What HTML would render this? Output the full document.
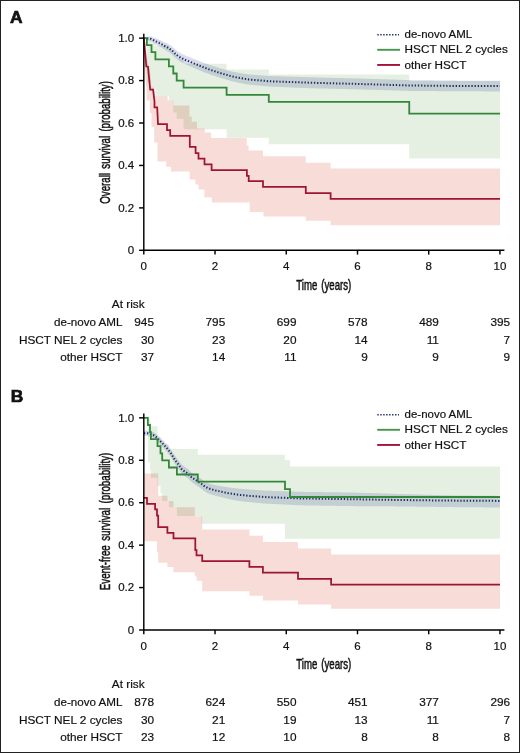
<!DOCTYPE html>
<html><head><meta charset="utf-8"><style>
html,body{margin:0;padding:0;background:#fff;}
#wrap{position:relative;width:518px;height:751px;border:1px solid #222;overflow:hidden;}
svg{position:absolute;left:-1px;top:-1px;}
text{font-family:"Liberation Sans",sans-serif;fill:#111;stroke:#111;stroke-width:0.2px;}
</style></head><body><div id="wrap">
<svg width="520" height="753" viewBox="0 0 520 753">
<g transform="translate(0 0.4)">
<path d="M143.80 37.70 L146.90 37.70 L146.90 38.80 L151.50 38.80 L151.50 42.00 L155.40 42.00 L155.40 45.10 L168.90 45.10 L168.90 49.40 L173.30 49.40 L173.30 53.60 L176.70 53.60 L176.70 57.90 L183.60 57.90 L183.60 63.30 L226.60 63.30 L226.60 69.00 L268.80 69.00 L268.80 74.20 L409.25 74.20 L409.25 80.50 L500.00 80.50 L500.00 158.10 L409.25 158.10 L409.25 143.80 L268.80 143.80 L268.80 137.30 L226.60 137.30 L226.60 128.80 L183.60 128.80 L183.60 118.60 L176.70 118.60 L176.70 112.00 L173.30 112.00 L173.30 100.00 L168.90 100.00 L168.90 95.80 L155.40 95.80 L155.40 89.00 L151.50 89.00 L151.50 82.00 L146.90 82.00 L146.90 37.70 L143.80 37.70Z" fill="#e5f0e2"/>
<path d="M143.80 37.70 L145.50 42.00 L147.80 62.00 L149.50 66.50 L151.70 86.00 L154.50 89.30 L155.40 95.80 L167.50 95.80 L167.50 100.00 L173.60 100.00 L173.60 105.20 L189.40 105.20 L189.40 116.00 L191.70 116.00 L191.70 121.30 L197.00 121.30 L197.00 128.00 L204.70 128.00 L204.70 132.00 L211.00 132.00 L211.00 137.50 L246.70 137.50 L246.70 145.00 L248.60 145.00 L248.60 150.00 L263.00 150.00 L263.00 155.80 L305.80 155.80 L305.80 162.30 L330.60 162.30 L330.60 168.20 L500.00 168.20 L500.00 224.80 L330.60 224.80 L330.60 220.30 L305.80 220.30 L305.80 216.00 L263.50 216.00 L263.50 211.50 L249.70 211.50 L249.70 202.00 L211.80 202.00 L211.80 196.80 L204.40 196.80 L204.40 189.00 L198.50 189.00 L198.50 184.00 L195.50 184.00 L195.50 179.00 L189.60 179.00 L189.60 171.00 L170.90 171.00 L170.90 166.30 L166.20 166.30 L166.20 161.00 L157.50 161.00 L157.50 142.10 L154.20 142.10 L154.20 126.50 L151.50 126.50 L151.50 112.70 L149.80 112.70 L149.80 100.00 L149.80 100.00 L146.60 100.00 L146.60 90.00 L145.20 75.00 L144.30 60.00 L143.80 37.70Z" fill="#f8dcd8" style="mix-blend-mode:multiply"/>
<path d="M143.85 36.95 L144.85 36.80 L145.85 36.65 L146.85 36.50 L147.85 36.35 L148.85 36.20 L149.85 36.06 L150.85 36.06 L151.85 36.42 L152.85 36.78 L153.85 37.14 L154.85 37.50 L155.85 37.92 L156.85 38.35 L157.85 38.76 L158.85 39.18 L159.85 39.61 L160.85 40.06 L161.85 40.51 L162.85 41.00 L163.85 41.51 L164.85 42.02 L165.85 42.47 L166.85 42.92 L167.85 43.41 L168.85 44.02 L169.85 44.64 L170.85 45.33 L171.85 46.09 L172.85 46.86 L173.85 47.81 L174.85 48.76 L175.85 49.60 L176.85 50.36 L177.85 51.10 L178.85 51.78 L179.85 52.45 L180.85 53.06 L181.85 53.52 L182.85 53.99 L183.85 54.46 L184.85 54.93 L185.85 55.40 L186.85 55.79 L187.85 56.12 L188.85 56.45 L189.85 56.84 L190.85 57.28 L191.85 57.71 L192.85 58.11 L193.85 58.49 L194.85 58.88 L195.85 59.26 L196.85 59.65 L197.85 60.03 L198.85 60.43 L199.85 60.84 L200.85 61.25 L201.85 61.67 L202.85 62.08 L203.85 62.49 L204.85 62.85 L205.85 63.20 L206.85 63.55 L207.85 63.90 L208.85 64.26 L209.85 64.61 L210.85 64.94 L211.85 65.26 L212.85 65.58 L213.85 65.90 L214.85 66.22 L215.85 66.55 L216.85 66.86 L217.85 67.17 L218.85 67.47 L219.85 67.78 L220.85 68.09 L221.85 68.39 L222.85 68.66 L223.85 68.92 L224.85 69.18 L225.85 69.44 L226.85 69.73 L227.85 70.03 L228.85 70.32 L229.85 70.61 L230.85 70.89 L231.85 71.14 L232.85 71.34 L233.85 71.53 L234.85 71.72 L235.85 71.91 L236.85 72.10 L237.85 72.29 L238.85 72.46 L239.85 72.64 L240.85 72.81 L241.85 72.99 L242.85 73.16 L243.85 73.31 L244.85 73.45 L245.85 73.60 L246.85 73.74 L247.85 73.88 L248.85 74.02 L249.85 74.09 L250.85 74.17 L251.85 74.24 L252.85 74.32 L253.85 74.40 L254.85 74.47 L255.85 74.55 L256.85 74.63 L257.85 74.71 L258.85 74.78 L259.85 74.86 L260.85 74.94 L261.85 75.01 L262.85 75.09 L263.85 75.17 L264.85 75.24 L265.85 75.32 L266.85 75.40 L267.85 75.47 L268.85 75.55 L269.85 75.63 L270.85 75.66 L271.85 75.69 L272.85 75.72 L273.85 75.74 L274.85 75.77 L275.85 75.80 L276.85 75.82 L277.85 75.85 L278.85 75.88 L279.85 75.91 L280.85 75.93 L281.85 75.96 L282.85 75.99 L283.85 76.01 L284.85 76.04 L285.85 76.07 L286.85 76.09 L287.85 76.12 L288.85 76.15 L289.85 76.18 L290.85 76.20 L291.85 76.23 L292.85 76.26 L293.85 76.28 L294.85 76.31 L295.85 76.34 L296.85 76.36 L297.85 76.39 L298.85 76.42 L299.85 76.45 L300.85 76.48 L301.85 76.52 L302.85 76.55 L303.85 76.59 L304.85 76.62 L305.85 76.66 L306.85 76.70 L307.85 76.73 L308.85 76.77 L309.85 76.80 L310.85 76.83 L311.85 76.86 L312.85 76.89 L313.85 76.91 L314.85 76.94 L315.85 76.97 L316.85 76.99 L317.85 77.02 L318.85 77.05 L319.85 77.08 L320.85 77.10 L321.85 77.13 L322.85 77.16 L323.85 77.18 L324.85 77.21 L325.85 77.24 L326.85 77.26 L327.85 77.29 L328.85 77.32 L329.85 77.35 L330.85 77.37 L331.85 77.40 L332.85 77.43 L333.85 77.45 L334.85 77.48 L335.85 77.51 L336.85 77.53 L337.85 77.56 L338.85 77.59 L339.85 77.62 L340.85 77.64 L341.85 77.67 L342.85 77.70 L343.85 77.72 L344.85 77.75 L345.85 77.78 L346.85 77.80 L347.85 77.83 L348.85 77.86 L349.85 77.89 L350.85 77.91 L351.85 77.94 L352.85 77.97 L353.85 77.99 L354.85 78.02 L355.85 78.05 L356.85 78.07 L357.85 78.10 L358.85 78.13 L359.85 78.16 L360.85 78.19 L361.85 78.22 L362.85 78.25 L363.85 78.28 L364.85 78.31 L365.85 78.34 L366.85 78.37 L367.85 78.40 L368.85 78.43 L369.85 78.47 L370.85 78.50 L371.85 78.53 L372.85 78.56 L373.85 78.59 L374.85 78.62 L375.85 78.65 L376.85 78.68 L377.85 78.71 L378.85 78.74 L379.85 78.78 L380.85 78.81 L381.85 78.84 L382.85 78.87 L383.85 78.90 L384.85 78.93 L385.85 78.96 L386.85 78.99 L387.85 79.02 L388.85 79.05 L389.85 79.09 L390.85 79.12 L391.85 79.15 L392.85 79.18 L393.85 79.21 L394.85 79.24 L395.85 79.27 L396.85 79.30 L397.85 79.33 L398.85 79.36 L399.85 79.40 L400.85 79.43 L401.85 79.46 L402.85 79.49 L403.85 79.52 L404.85 79.55 L405.85 79.58 L406.85 79.61 L407.85 79.64 L408.85 79.67 L409.85 79.71 L410.85 79.72 L411.85 79.73 L412.85 79.74 L413.85 79.75 L414.85 79.76 L415.85 79.77 L416.85 79.79 L417.85 79.80 L418.85 79.81 L419.85 79.82 L420.85 79.83 L421.85 79.84 L422.85 79.85 L423.85 79.86 L424.85 79.87 L425.85 79.88 L426.85 79.90 L427.85 79.91 L428.85 79.92 L429.85 79.93 L430.85 79.94 L431.85 79.95 L432.85 79.96 L433.85 79.97 L434.85 79.98 L435.85 79.99 L436.85 80.01 L437.85 80.02 L438.85 80.03 L439.85 80.04 L440.85 80.05 L441.85 80.06 L442.85 80.07 L443.85 80.08 L444.85 80.09 L445.85 80.10 L446.85 80.12 L447.85 80.13 L448.85 80.14 L449.85 80.15 L450.85 80.16 L451.85 80.17 L452.85 80.18 L453.85 80.19 L454.85 80.20 L455.85 80.21 L456.85 80.23 L457.85 80.24 L458.85 80.25 L459.85 80.26 L460.85 80.26 L461.85 80.27 L462.85 80.27 L463.85 80.27 L464.85 80.28 L465.85 80.28 L466.85 80.28 L467.85 80.29 L468.85 80.29 L469.85 80.29 L470.85 80.30 L471.85 80.30 L472.85 80.30 L473.85 80.31 L474.85 80.31 L475.85 80.32 L476.85 80.32 L477.85 80.32 L478.85 80.33 L479.85 80.33 L480.85 80.33 L481.85 80.34 L482.85 80.34 L483.85 80.34 L484.85 80.35 L485.85 80.35 L486.85 80.35 L487.85 80.36 L488.85 80.36 L489.85 80.36 L490.85 80.37 L491.85 80.37 L492.85 80.37 L493.85 80.38 L494.85 80.38 L495.85 80.39 L496.85 80.39 L497.85 80.39 L498.85 80.40 L499.85 80.40 L500.00 80.40 L500.00 91.00 L499.85 91.00 L498.85 91.00 L497.85 91.00 L496.85 91.00 L495.85 90.99 L494.85 90.99 L493.85 90.99 L492.85 90.99 L491.85 90.99 L490.85 90.99 L489.85 90.98 L488.85 90.98 L487.85 90.98 L486.85 90.98 L485.85 90.98 L484.85 90.98 L483.85 90.98 L482.85 90.97 L481.85 90.97 L480.85 90.97 L479.85 90.97 L478.85 90.97 L477.85 90.97 L476.85 90.97 L475.85 90.96 L474.85 90.96 L473.85 90.96 L472.85 90.96 L471.85 90.96 L470.85 90.96 L469.85 90.95 L468.85 90.95 L467.85 90.95 L466.85 90.95 L465.85 90.95 L464.85 90.95 L463.85 90.95 L462.85 90.94 L461.85 90.94 L460.85 90.94 L459.85 90.94 L458.85 90.93 L457.85 90.92 L456.85 90.91 L455.85 90.90 L454.85 90.89 L453.85 90.88 L452.85 90.88 L451.85 90.87 L450.85 90.86 L449.85 90.85 L448.85 90.84 L447.85 90.83 L446.85 90.82 L445.85 90.81 L444.85 90.80 L443.85 90.79 L442.85 90.79 L441.85 90.78 L440.85 90.77 L439.85 90.76 L438.85 90.75 L437.85 90.74 L436.85 90.73 L435.85 90.72 L434.85 90.71 L433.85 90.70 L432.85 90.70 L431.85 90.69 L430.85 90.68 L429.85 90.67 L428.85 90.66 L427.85 90.65 L426.85 90.64 L425.85 90.63 L424.85 90.62 L423.85 90.61 L422.85 90.61 L421.85 90.60 L420.85 90.59 L419.85 90.58 L418.85 90.57 L417.85 90.56 L416.85 90.55 L415.85 90.54 L414.85 90.53 L413.85 90.52 L412.85 90.52 L411.85 90.51 L410.85 90.50 L409.85 90.49 L408.85 90.46 L407.85 90.43 L406.85 90.40 L405.85 90.37 L404.85 90.34 L403.85 90.31 L402.85 90.28 L401.85 90.25 L400.85 90.22 L399.85 90.20 L398.85 90.17 L397.85 90.14 L396.85 90.11 L395.85 90.08 L394.85 90.05 L393.85 90.02 L392.85 89.99 L391.85 89.96 L390.85 89.93 L389.85 89.91 L388.85 89.88 L387.85 89.85 L386.85 89.82 L385.85 89.79 L384.85 89.76 L383.85 89.73 L382.85 89.70 L381.85 89.67 L380.85 89.64 L379.85 89.62 L378.85 89.59 L377.85 89.56 L376.85 89.53 L375.85 89.50 L374.85 89.47 L373.85 89.44 L372.85 89.41 L371.85 89.38 L370.85 89.35 L369.85 89.33 L368.85 89.30 L367.85 89.27 L366.85 89.24 L365.85 89.21 L364.85 89.18 L363.85 89.15 L362.85 89.12 L361.85 89.09 L360.85 89.06 L359.85 89.04 L358.85 89.01 L357.85 88.99 L356.85 88.96 L355.85 88.94 L354.85 88.91 L353.85 88.89 L352.85 88.86 L351.85 88.84 L350.85 88.81 L349.85 88.79 L348.85 88.76 L347.85 88.74 L346.85 88.71 L345.85 88.69 L344.85 88.66 L343.85 88.64 L342.85 88.61 L341.85 88.59 L340.85 88.56 L339.85 88.54 L338.85 88.51 L337.85 88.49 L336.85 88.46 L335.85 88.44 L334.85 88.41 L333.85 88.39 L332.85 88.36 L331.85 88.34 L330.85 88.31 L329.85 88.29 L328.85 88.26 L327.85 88.24 L326.85 88.21 L325.85 88.19 L324.85 88.16 L323.85 88.14 L322.85 88.11 L321.85 88.09 L320.85 88.06 L319.85 88.04 L318.85 88.01 L317.85 87.99 L316.85 87.96 L315.85 87.94 L314.85 87.91 L313.85 87.89 L312.85 87.86 L311.85 87.84 L310.85 87.81 L309.85 87.78 L308.85 87.75 L307.85 87.72 L306.85 87.68 L305.85 87.65 L304.85 87.61 L303.85 87.58 L302.85 87.55 L301.85 87.51 L300.85 87.48 L299.85 87.44 L298.85 87.40 L297.85 87.36 L296.85 87.31 L295.85 87.27 L294.85 87.23 L293.85 87.19 L292.85 87.14 L291.85 87.10 L290.85 87.06 L289.85 87.01 L288.85 86.97 L287.85 86.93 L286.85 86.88 L285.85 86.84 L284.85 86.80 L283.85 86.76 L282.85 86.71 L281.85 86.67 L280.85 86.63 L279.85 86.58 L278.85 86.54 L277.85 86.50 L276.85 86.45 L275.85 86.41 L274.85 86.37 L273.85 86.33 L272.85 86.28 L271.85 86.24 L270.85 86.20 L269.85 86.15 L268.85 86.05 L267.85 85.96 L266.85 85.87 L265.85 85.77 L264.85 85.68 L263.85 85.59 L262.85 85.50 L261.85 85.40 L260.85 85.31 L259.85 85.22 L258.85 85.12 L257.85 85.03 L256.85 84.94 L255.85 84.85 L254.85 84.75 L253.85 84.66 L252.85 84.57 L251.85 84.47 L250.85 84.38 L249.85 84.29 L248.85 84.19 L247.85 84.02 L246.85 83.84 L245.85 83.67 L244.85 83.50 L243.85 83.33 L242.85 83.15 L241.85 82.94 L240.85 82.74 L239.85 82.53 L238.85 82.33 L237.85 82.12 L236.85 81.91 L235.85 81.69 L234.85 81.47 L233.85 81.24 L232.85 81.02 L231.85 80.80 L230.85 80.52 L229.85 80.21 L228.85 79.90 L227.85 79.60 L226.85 79.29 L225.85 78.99 L224.85 78.71 L223.85 78.44 L222.85 78.16 L221.85 77.89 L220.85 77.57 L219.85 77.25 L218.85 76.93 L217.85 76.60 L216.85 76.28 L215.85 75.96 L214.85 75.62 L213.85 75.29 L212.85 74.95 L211.85 74.62 L210.85 74.29 L209.85 73.94 L208.85 73.57 L207.85 73.21 L206.85 72.84 L205.85 72.48 L204.85 72.11 L203.85 71.74 L202.85 71.32 L201.85 70.89 L200.85 70.46 L199.85 70.03 L198.85 69.60 L197.85 69.17 L196.85 68.75 L195.85 68.34 L194.85 67.92 L193.85 67.51 L192.85 67.09 L191.85 66.67 L190.85 66.20 L189.85 65.74 L188.85 65.31 L187.85 64.95 L186.85 64.59 L185.85 64.17 L184.85 63.67 L183.85 63.17 L182.85 62.68 L181.85 62.18 L180.85 61.68 L179.85 61.04 L178.85 60.31 L177.85 59.58 L176.85 58.77 L175.85 57.95 L174.85 57.05 L173.85 56.04 L172.85 55.03 L171.85 54.20 L170.85 53.38 L169.85 52.62 L168.85 51.87 L167.85 51.13 L166.85 50.50 L165.85 49.92 L164.85 49.33 L163.85 48.69 L162.85 48.04 L161.85 47.42 L160.85 46.84 L159.85 46.26 L158.85 45.69 L157.85 45.14 L156.85 44.59 L155.85 44.03 L154.85 43.45 L153.85 42.81 L152.85 42.17 L151.85 41.53 L150.85 40.89 L149.85 40.58 L148.85 40.24 L147.85 39.91 L146.85 39.57 L145.85 39.23 L144.85 38.89 L143.85 38.55Z" fill="#dadcee" style="mix-blend-mode:multiply"/>
<path d="M143.85 37.75 L150.70 38.40 L153.60 39.85 L156.50 41.30 L159.40 42.70 L162.30 44.20 L164.70 45.60 L167.60 47.10 L170.40 49.00 L172.80 50.90 L175.25 53.30 L177.65 55.20 L180.50 57.20 L183.40 58.60 L186.30 60.00 L189.20 61.00 L192.10 62.30 L198.10 64.70 L203.80 67.10 L210.20 69.40 L216.00 71.30 L221.70 73.10 L225.80 74.20 L231.50 75.90 L237.30 77.10 L243.10 78.20 L248.80 79.10 L270.00 80.90 L310.00 82.30 L360.00 83.60 L410.00 85.10 L460.00 85.60 L500.00 85.70" fill="none" stroke="#1f3060" stroke-width="2.0" stroke-dasharray="1.35 1.8"/>
<path d="M143.80 37.70H146.90V44.80H151.50V51.80H155.40V58.90H168.90V66.00H173.30V73.10H176.70V80.20H183.60V87.30H226.60V94.40H268.80V101.50H409.25V113.30H500.00" fill="none" stroke="#33873a" stroke-width="1.8"/>
<path d="M143.80 37.70L146.3 65.9L148 66.5L150.2 89.3H153.1L154.5 101.2V107H157.2L158 123.8H167V129.8H170.2V135.5H189.8V146.5H195.6V152.6H198.5V158.1H204.5V163.9H211.6V169.6H246.9V175.4H248.7V180.8H263V186.5H305.8V192.8H330.6V198.4H500" fill="none" stroke="#9e1433" stroke-width="1.75"/>
</g><g transform="translate(0 0.2)">
<path d="M143.80 417.70 L147.85 417.70 L147.85 418.80 L150.00 418.80 L150.00 422.00 L150.90 422.00 L150.90 426.00 L157.50 426.00 L157.50 437.00 L160.50 437.00 L160.50 441.00 L162.20 441.00 L162.20 444.00 L168.90 444.00 L168.90 448.60 L176.90 448.60 L176.90 448.80 L197.80 448.80 L197.80 454.50 L285.00 454.50 L285.00 460.00 L290.00 460.00 L290.00 466.40 L500.00 466.40 L500.00 538.50 L285.00 538.50 L285.00 523.50 L201.50 523.50 L201.50 515.80 L176.90 515.80 L176.90 507.10 L168.90 507.10 L168.90 500.80 L162.20 500.80 L162.20 493.00 L160.50 493.00 L160.50 485.60 L157.50 485.60 L157.50 477.50 L150.90 477.50 L150.90 470.00 L150.00 470.00 L150.00 462.00 L147.85 462.00 L147.85 417.70 L143.80 417.70Z" fill="#e5f0e2"/>
<path d="M143.80 473.40 L158.20 473.40 L158.20 495.60 L167.40 495.60 L167.40 500.80 L173.50 500.80 L173.50 507.10 L194.80 507.10 L194.80 516.00 L202.20 516.00 L202.20 529.30 L249.40 529.30 L249.40 535.60 L262.90 535.60 L262.90 541.80 L298.00 541.80 L298.00 548.30 L331.10 548.30 L331.10 554.20 L500.00 554.20 L500.00 608.60 L331.10 608.60 L331.10 604.30 L298.00 604.30 L298.00 600.30 L262.90 600.30 L262.90 595.50 L249.40 595.50 L249.40 591.00 L202.20 591.00 L202.20 580.50 L196.50 580.50 L196.50 576.00 L194.80 576.00 L194.80 572.00 L173.50 572.00 L173.50 566.70 L167.40 566.70 L167.40 562.50 L158.20 562.50 L158.20 552.00 L157.00 552.00 L157.00 541.00 L143.80 541.00Z" fill="#f8dcd8" style="mix-blend-mode:multiply"/>
<path d="M143.85 430.50 L144.85 430.46 L145.85 430.41 L146.85 430.37 L147.85 430.52 L148.85 430.79 L149.85 431.06 L150.85 431.33 L151.85 431.59 L152.85 431.86 L153.85 432.23 L154.85 432.90 L155.85 433.52 L156.85 434.29 L157.85 435.24 L158.85 436.14 L159.85 437.00 L160.85 437.91 L161.85 438.86 L162.85 439.81 L163.85 440.84 L164.85 441.89 L165.85 442.95 L166.85 444.00 L167.85 445.20 L168.85 446.45 L169.85 447.70 L170.85 448.96 L171.85 450.55 L172.85 452.23 L173.85 453.78 L174.85 455.30 L175.85 456.65 L176.85 457.99 L177.85 459.23 L178.85 460.48 L179.85 461.89 L180.85 463.37 L181.85 464.41 L182.85 465.21 L183.85 466.05 L184.85 466.83 L185.85 467.47 L186.85 468.11 L187.85 468.75 L188.85 469.67 L189.85 470.68 L190.85 471.69 L191.85 472.57 L192.85 473.21 L193.85 473.85 L194.85 474.49 L195.85 475.13 L196.85 475.77 L197.85 476.41 L198.85 477.06 L199.85 477.72 L200.85 478.37 L201.85 479.02 L202.85 479.78 L203.85 480.55 L204.85 481.30 L205.85 481.79 L206.85 482.28 L207.85 482.77 L208.85 483.16 L209.85 483.46 L210.85 483.75 L211.85 484.05 L212.85 484.30 L213.85 484.55 L214.85 484.79 L215.85 485.03 L216.85 485.26 L217.85 485.49 L218.85 485.66 L219.85 485.81 L220.85 485.95 L221.85 486.11 L222.85 486.29 L223.85 486.48 L224.85 486.67 L225.85 486.84 L226.85 487.01 L227.85 487.17 L228.85 487.31 L229.85 487.41 L230.85 487.52 L231.85 487.62 L232.85 487.75 L233.85 487.88 L234.85 488.01 L235.85 488.13 L236.85 488.24 L237.85 488.35 L238.85 488.45 L239.85 488.51 L240.85 488.59 L241.85 488.67 L242.85 488.76 L243.85 488.84 L244.85 488.92 L245.85 489.00 L246.85 489.09 L247.85 489.17 L248.85 489.25 L249.85 489.34 L250.85 489.41 L251.85 489.47 L252.85 489.54 L253.85 489.60 L254.85 489.67 L255.85 489.74 L256.85 489.80 L257.85 489.87 L258.85 489.93 L259.85 490.00 L260.85 490.08 L261.85 490.16 L262.85 490.24 L263.85 490.31 L264.85 490.39 L265.85 490.43 L266.85 490.46 L267.85 490.49 L268.85 490.53 L269.85 490.56 L270.85 490.60 L271.85 490.63 L272.85 490.67 L273.85 490.70 L274.85 490.73 L275.85 490.77 L276.85 490.80 L277.85 490.84 L278.85 490.87 L279.85 490.91 L280.85 490.94 L281.85 490.97 L282.85 491.01 L283.85 491.04 L284.85 491.08 L285.85 491.11 L286.85 491.15 L287.85 491.18 L288.85 491.22 L289.85 491.25 L290.85 491.29 L291.85 491.32 L292.85 491.36 L293.85 491.39 L294.85 491.43 L295.85 491.46 L296.85 491.50 L297.85 491.54 L298.85 491.57 L299.85 491.61 L300.85 491.62 L301.85 491.64 L302.85 491.65 L303.85 491.66 L304.85 491.68 L305.85 491.69 L306.85 491.71 L307.85 491.72 L308.85 491.73 L309.85 491.75 L310.85 491.76 L311.85 491.77 L312.85 491.79 L313.85 491.80 L314.85 491.82 L315.85 491.83 L316.85 491.84 L317.85 491.86 L318.85 491.87 L319.85 491.88 L320.85 491.90 L321.85 491.91 L322.85 491.93 L323.85 491.94 L324.85 491.95 L325.85 491.97 L326.85 491.98 L327.85 491.99 L328.85 492.01 L329.85 492.02 L330.85 492.04 L331.85 492.05 L332.85 492.06 L333.85 492.08 L334.85 492.09 L335.85 492.11 L336.85 492.12 L337.85 492.13 L338.85 492.15 L339.85 492.16 L340.85 492.17 L341.85 492.19 L342.85 492.20 L343.85 492.22 L344.85 492.23 L345.85 492.24 L346.85 492.26 L347.85 492.27 L348.85 492.28 L349.85 492.30 L350.85 492.33 L351.85 492.36 L352.85 492.39 L353.85 492.42 L354.85 492.45 L355.85 492.48 L356.85 492.51 L357.85 492.54 L358.85 492.57 L359.85 492.60 L360.85 492.63 L361.85 492.66 L362.85 492.69 L363.85 492.72 L364.85 492.75 L365.85 492.78 L366.85 492.81 L367.85 492.84 L368.85 492.87 L369.85 492.90 L370.85 492.93 L371.85 492.96 L372.85 492.99 L373.85 493.02 L374.85 493.05 L375.85 493.08 L376.85 493.11 L377.85 493.14 L378.85 493.17 L379.85 493.20 L380.85 493.23 L381.85 493.26 L382.85 493.29 L383.85 493.32 L384.85 493.35 L385.85 493.38 L386.85 493.41 L387.85 493.44 L388.85 493.47 L389.85 493.50 L390.85 493.53 L391.85 493.56 L392.85 493.59 L393.85 493.62 L394.85 493.65 L395.85 493.68 L396.85 493.71 L397.85 493.74 L398.85 493.77 L399.85 493.80 L400.85 493.82 L401.85 493.85 L402.85 493.88 L403.85 493.91 L404.85 493.94 L405.85 493.96 L406.85 493.99 L407.85 494.02 L408.85 494.05 L409.85 494.08 L410.85 494.10 L411.85 494.13 L412.85 494.16 L413.85 494.19 L414.85 494.22 L415.85 494.24 L416.85 494.27 L417.85 494.30 L418.85 494.33 L419.85 494.36 L420.85 494.38 L421.85 494.41 L422.85 494.44 L423.85 494.47 L424.85 494.50 L425.85 494.52 L426.85 494.55 L427.85 494.58 L428.85 494.61 L429.85 494.64 L430.85 494.66 L431.85 494.69 L432.85 494.72 L433.85 494.75 L434.85 494.78 L435.85 494.80 L436.85 494.83 L437.85 494.86 L438.85 494.89 L439.85 494.92 L440.85 494.94 L441.85 494.97 L442.85 495.00 L443.85 495.03 L444.85 495.06 L445.85 495.08 L446.85 495.11 L447.85 495.14 L448.85 495.17 L449.85 495.20 L450.85 495.21 L451.85 495.22 L452.85 495.23 L453.85 495.24 L454.85 495.25 L455.85 495.26 L456.85 495.27 L457.85 495.28 L458.85 495.29 L459.85 495.30 L460.85 495.31 L461.85 495.32 L462.85 495.33 L463.85 495.34 L464.85 495.35 L465.85 495.36 L466.85 495.37 L467.85 495.38 L468.85 495.39 L469.85 495.40 L470.85 495.41 L471.85 495.42 L472.85 495.43 L473.85 495.44 L474.85 495.45 L475.85 495.46 L476.85 495.47 L477.85 495.48 L478.85 495.49 L479.85 495.50 L480.85 495.51 L481.85 495.52 L482.85 495.53 L483.85 495.54 L484.85 495.55 L485.85 495.56 L486.85 495.57 L487.85 495.58 L488.85 495.59 L489.85 495.60 L490.85 495.61 L491.85 495.62 L492.85 495.63 L493.85 495.64 L494.85 495.65 L495.85 495.66 L496.85 495.67 L497.85 495.68 L498.85 495.69 L499.85 495.70 L500.00 495.70 L500.00 507.30 L499.85 507.30 L498.85 507.29 L497.85 507.28 L496.85 507.27 L495.85 507.27 L494.85 507.26 L493.85 507.25 L492.85 507.24 L491.85 507.23 L490.85 507.23 L489.85 507.22 L488.85 507.21 L487.85 507.20 L486.85 507.19 L485.85 507.19 L484.85 507.18 L483.85 507.17 L482.85 507.16 L481.85 507.15 L480.85 507.15 L479.85 507.14 L478.85 507.13 L477.85 507.12 L476.85 507.11 L475.85 507.11 L474.85 507.10 L473.85 507.09 L472.85 507.08 L471.85 507.07 L470.85 507.07 L469.85 507.06 L468.85 507.05 L467.85 507.04 L466.85 507.03 L465.85 507.03 L464.85 507.02 L463.85 507.01 L462.85 507.00 L461.85 506.99 L460.85 506.99 L459.85 506.98 L458.85 506.97 L457.85 506.96 L456.85 506.95 L455.85 506.95 L454.85 506.94 L453.85 506.93 L452.85 506.92 L451.85 506.91 L450.85 506.91 L449.85 506.90 L448.85 506.88 L447.85 506.87 L446.85 506.86 L445.85 506.84 L444.85 506.83 L443.85 506.81 L442.85 506.80 L441.85 506.79 L440.85 506.77 L439.85 506.76 L438.85 506.74 L437.85 506.73 L436.85 506.72 L435.85 506.70 L434.85 506.69 L433.85 506.67 L432.85 506.66 L431.85 506.65 L430.85 506.63 L429.85 506.62 L428.85 506.60 L427.85 506.59 L426.85 506.58 L425.85 506.56 L424.85 506.55 L423.85 506.53 L422.85 506.52 L421.85 506.51 L420.85 506.49 L419.85 506.48 L418.85 506.46 L417.85 506.45 L416.85 506.44 L415.85 506.42 L414.85 506.41 L413.85 506.39 L412.85 506.38 L411.85 506.37 L410.85 506.35 L409.85 506.34 L408.85 506.32 L407.85 506.31 L406.85 506.30 L405.85 506.28 L404.85 506.27 L403.85 506.25 L402.85 506.24 L401.85 506.23 L400.85 506.21 L399.85 506.20 L398.85 506.19 L397.85 506.19 L396.85 506.18 L395.85 506.18 L394.85 506.17 L393.85 506.16 L392.85 506.16 L391.85 506.15 L390.85 506.15 L389.85 506.14 L388.85 506.13 L387.85 506.13 L386.85 506.12 L385.85 506.12 L384.85 506.11 L383.85 506.10 L382.85 506.10 L381.85 506.09 L380.85 506.09 L379.85 506.08 L378.85 506.07 L377.85 506.07 L376.85 506.06 L375.85 506.06 L374.85 506.05 L373.85 506.04 L372.85 506.04 L371.85 506.03 L370.85 506.03 L369.85 506.02 L368.85 506.01 L367.85 506.01 L366.85 506.00 L365.85 506.00 L364.85 505.99 L363.85 505.98 L362.85 505.98 L361.85 505.97 L360.85 505.97 L359.85 505.96 L358.85 505.95 L357.85 505.95 L356.85 505.94 L355.85 505.94 L354.85 505.93 L353.85 505.92 L352.85 505.92 L351.85 505.91 L350.85 505.91 L349.85 505.90 L348.85 505.88 L347.85 505.87 L346.85 505.85 L345.85 505.83 L344.85 505.82 L343.85 505.80 L342.85 505.79 L341.85 505.77 L340.85 505.75 L339.85 505.74 L338.85 505.72 L337.85 505.71 L336.85 505.69 L335.85 505.67 L334.85 505.66 L333.85 505.64 L332.85 505.63 L331.85 505.61 L330.85 505.59 L329.85 505.58 L328.85 505.56 L327.85 505.55 L326.85 505.53 L325.85 505.51 L324.85 505.50 L323.85 505.48 L322.85 505.47 L321.85 505.45 L320.85 505.43 L319.85 505.42 L318.85 505.40 L317.85 505.39 L316.85 505.37 L315.85 505.35 L314.85 505.34 L313.85 505.32 L312.85 505.31 L311.85 505.29 L310.85 505.27 L309.85 505.26 L308.85 505.24 L307.85 505.23 L306.85 505.21 L305.85 505.19 L304.85 505.18 L303.85 505.16 L302.85 505.15 L301.85 505.13 L300.85 505.11 L299.85 505.09 L298.85 505.04 L297.85 504.99 L296.85 504.94 L295.85 504.89 L294.85 504.84 L293.85 504.79 L292.85 504.74 L291.85 504.69 L290.85 504.64 L289.85 504.59 L288.85 504.54 L287.85 504.49 L286.85 504.44 L285.85 504.39 L284.85 504.34 L283.85 504.29 L282.85 504.24 L281.85 504.20 L280.85 504.15 L279.85 504.10 L278.85 504.05 L277.85 504.00 L276.85 503.95 L275.85 503.90 L274.85 503.85 L273.85 503.80 L272.85 503.75 L271.85 503.71 L270.85 503.66 L269.85 503.61 L268.85 503.56 L267.85 503.51 L266.85 503.46 L265.85 503.41 L264.85 503.36 L263.85 503.27 L262.85 503.18 L261.85 503.08 L260.85 502.99 L259.85 502.90 L258.85 502.81 L257.85 502.71 L256.85 502.62 L255.85 502.53 L254.85 502.44 L253.85 502.35 L252.85 502.26 L251.85 502.17 L250.85 502.08 L249.85 501.98 L248.85 501.88 L247.85 501.77 L246.85 501.66 L245.85 501.55 L244.85 501.44 L243.85 501.33 L242.85 501.23 L241.85 501.12 L240.85 501.01 L239.85 500.90 L238.85 500.76 L237.85 500.57 L236.85 500.39 L235.85 500.20 L234.85 500.00 L233.85 499.79 L232.85 499.58 L231.85 499.37 L230.85 499.18 L229.85 499.00 L228.85 498.82 L227.85 498.60 L226.85 498.35 L225.85 498.11 L224.85 497.86 L223.85 497.59 L222.85 497.32 L221.85 497.05 L220.85 496.82 L219.85 496.61 L218.85 496.40 L217.85 496.18 L216.85 495.90 L215.85 495.62 L214.85 495.34 L213.85 495.04 L212.85 494.74 L211.85 494.44 L210.85 494.10 L209.85 493.75 L208.85 493.40 L207.85 492.96 L206.85 492.43 L205.85 491.89 L204.85 491.35 L203.85 490.54 L202.85 489.72 L201.85 488.91 L200.85 488.21 L199.85 487.51 L198.85 486.82 L197.85 486.13 L196.85 485.46 L195.85 484.79 L194.85 484.11 L193.85 483.44 L192.85 482.76 L191.85 482.09 L190.85 481.17 L189.85 480.12 L188.85 479.08 L187.85 478.12 L186.85 477.45 L185.85 476.77 L184.85 476.10 L183.85 475.28 L182.85 474.40 L181.85 473.50 L180.85 472.36 L179.85 470.79 L178.85 469.28 L177.85 467.94 L176.85 466.60 L175.85 465.17 L174.85 463.72 L173.85 462.10 L172.85 460.45 L171.85 458.68 L170.85 456.99 L169.85 455.65 L168.85 454.30 L167.85 452.95 L166.85 451.65 L165.85 450.50 L164.85 449.36 L163.85 448.21 L162.85 447.09 L161.85 446.04 L160.85 444.99 L159.85 443.97 L158.85 442.91 L157.85 441.81 L156.85 440.66 L155.85 439.69 L154.85 438.89 L153.85 438.13 L152.85 437.67 L151.85 437.31 L150.85 436.95 L149.85 436.60 L148.85 436.24 L147.85 435.88 L146.85 435.63 L145.85 435.59 L144.85 435.54 L143.85 435.50Z" fill="#dadcee" style="mix-blend-mode:multiply"/>
<path d="M143.85 433.00 L147.20 433.00 L153.60 435.00 L156.40 437.00 L158.30 439.00 L160.70 441.30 L163.10 443.70 L165.10 445.90 L167.10 448.10 L169.10 450.70 L171.10 453.30 L172.70 456.10 L174.70 459.30 L176.70 462.10 L179.10 465.20 L181.20 468.40 L184.60 471.30 L188.10 473.60 L191.50 477.10 L195.00 479.40 L198.50 481.70 L201.90 484.00 L204.80 486.30 L208.30 488.10 L211.70 489.20 L214.60 490.00 L218.10 490.90 L221.50 491.50 L225.00 492.30 L228.40 493.00 L231.90 493.50 L235.40 494.10 L238.80 494.60 L250.00 495.70 L264.80 496.90 L286.70 497.70 L300.00 498.20 L350.00 499.00 L400.00 499.80 L450.00 500.40 L500.00 500.70" fill="none" stroke="#1f3060" stroke-width="2.0" stroke-dasharray="1.35 1.8"/>
<path d="M143.80 417.70H147.85V424.80H150.00V431.90H150.90V439.00H157.50V446.00H160.50V453.10H162.20V460.20H168.90V467.30H176.90V474.30H197.80V481.40H285.00V489.00H290.00V496.80H500.00" fill="none" stroke="#33873a" stroke-width="1.8"/>
<path d="M143.80 497.70H147.00V503.80H155.10V509.20H157.00V515.40H158.20V526.90H167.40V532.70H173.50V538.10H195.30V549.80H196.50V555.10H202.20V561.00H249.40V566.60H262.90V572.50H298.00V578.70H331.10V584.30H500.00" fill="none" stroke="#9e1433" stroke-width="1.75"/>
</g>
<path d="M143.80 33.80V250.30H504.40" fill="none" stroke="#000" stroke-width="1.45"/>
<path d="M139.1 250.30H143.80" stroke="#000" stroke-width="1.45"/>
<text x="134.2" y="254.00" text-anchor="end" font-size="11.5">0</text>
<path d="M139.1 207.87H143.80" stroke="#000" stroke-width="1.45"/>
<text x="134.2" y="211.57" text-anchor="end" font-size="11.5">0.2</text>
<path d="M139.1 165.44H143.80" stroke="#000" stroke-width="1.45"/>
<text x="134.2" y="169.14" text-anchor="end" font-size="11.5">0.4</text>
<path d="M139.1 123.01H143.80" stroke="#000" stroke-width="1.45"/>
<text x="134.2" y="126.71" text-anchor="end" font-size="11.5">0.6</text>
<path d="M139.1 80.58H143.80" stroke="#000" stroke-width="1.45"/>
<text x="134.2" y="84.28" text-anchor="end" font-size="11.5">0.8</text>
<path d="M139.1 38.15H143.80" stroke="#000" stroke-width="1.45"/>
<text x="134.2" y="41.85" text-anchor="end" font-size="11.5">1.0</text>
<path d="M143.80 250.30V254.60" stroke="#000" stroke-width="1.45"/>
<text x="143.80" y="269.90" text-anchor="middle" font-size="11.5">0</text>
<path d="M215.03 250.30V254.60" stroke="#000" stroke-width="1.45"/>
<text x="215.03" y="269.90" text-anchor="middle" font-size="11.5">2</text>
<path d="M286.26 250.30V254.60" stroke="#000" stroke-width="1.45"/>
<text x="286.26" y="269.90" text-anchor="middle" font-size="11.5">4</text>
<path d="M357.49 250.30V254.60" stroke="#000" stroke-width="1.45"/>
<text x="357.49" y="269.90" text-anchor="middle" font-size="11.5">6</text>
<path d="M428.72 250.30V254.60" stroke="#000" stroke-width="1.45"/>
<text x="428.72" y="269.90" text-anchor="middle" font-size="11.5">8</text>
<path d="M499.95 250.30V254.60" stroke="#000" stroke-width="1.45"/>
<text x="499.95" y="269.90" text-anchor="middle" font-size="11.5">10</text>
<text x="296.3" y="289.60" font-size="14.2" style="stroke-width:0.5px" word-spacing="2" textLength="55" lengthAdjust="spacingAndGlyphs">Time (years)</text>
<text transform="translate(109.6 142.40) rotate(-90)" text-anchor="middle" font-size="14.5" style="stroke-width:0.5px" word-spacing="2.5" textLength="122.5" lengthAdjust="spacingAndGlyphs">Overall survival (probability)</text>
<path d="M143.80 413.50V630.00H504.40" fill="none" stroke="#000" stroke-width="1.45"/>
<path d="M139.1 630.00H143.80" stroke="#000" stroke-width="1.45"/>
<text x="134.2" y="633.70" text-anchor="end" font-size="11.5">0</text>
<path d="M139.1 587.57H143.80" stroke="#000" stroke-width="1.45"/>
<text x="134.2" y="591.27" text-anchor="end" font-size="11.5">0.2</text>
<path d="M139.1 545.14H143.80" stroke="#000" stroke-width="1.45"/>
<text x="134.2" y="548.84" text-anchor="end" font-size="11.5">0.4</text>
<path d="M139.1 502.71H143.80" stroke="#000" stroke-width="1.45"/>
<text x="134.2" y="506.41" text-anchor="end" font-size="11.5">0.6</text>
<path d="M139.1 460.28H143.80" stroke="#000" stroke-width="1.45"/>
<text x="134.2" y="463.98" text-anchor="end" font-size="11.5">0.8</text>
<path d="M139.1 417.85H143.80" stroke="#000" stroke-width="1.45"/>
<text x="134.2" y="421.55" text-anchor="end" font-size="11.5">1.0</text>
<path d="M143.80 630.00V634.30" stroke="#000" stroke-width="1.45"/>
<text x="143.80" y="649.60" text-anchor="middle" font-size="11.5">0</text>
<path d="M215.03 630.00V634.30" stroke="#000" stroke-width="1.45"/>
<text x="215.03" y="649.60" text-anchor="middle" font-size="11.5">2</text>
<path d="M286.26 630.00V634.30" stroke="#000" stroke-width="1.45"/>
<text x="286.26" y="649.60" text-anchor="middle" font-size="11.5">4</text>
<path d="M357.49 630.00V634.30" stroke="#000" stroke-width="1.45"/>
<text x="357.49" y="649.60" text-anchor="middle" font-size="11.5">6</text>
<path d="M428.72 630.00V634.30" stroke="#000" stroke-width="1.45"/>
<text x="428.72" y="649.60" text-anchor="middle" font-size="11.5">8</text>
<path d="M499.95 630.00V634.30" stroke="#000" stroke-width="1.45"/>
<text x="499.95" y="649.60" text-anchor="middle" font-size="11.5">10</text>
<text x="296.3" y="669.30" font-size="14.2" style="stroke-width:0.5px" word-spacing="2" textLength="55" lengthAdjust="spacingAndGlyphs">Time (years)</text>
<text transform="translate(109.6 521.40) rotate(-90)" text-anchor="middle" font-size="14.5" style="stroke-width:0.5px" word-spacing="2.5" textLength="137.5" lengthAdjust="spacingAndGlyphs">Event-free survival (probability)</text>
<path d="M377.3 34.85H399" stroke="#22355e" stroke-width="1.5" stroke-dasharray="1.45 1.5"/>
<path d="M377.2 49.80H400" stroke="#47944c" stroke-width="1.9"/>
<path d="M377.2 64.95H400" stroke="#a8123a" stroke-width="1.9"/>
<text x="404.6" y="38.40" font-size="11.7" textLength="67.6" lengthAdjust="spacingAndGlyphs">de-novo AML</text>
<text x="404.6" y="53.40" font-size="11.8" textLength="103.2" lengthAdjust="spacingAndGlyphs">HSCT NEL 2 cycles</text>
<text x="404.6" y="68.60" font-size="11.7" textLength="61.8" lengthAdjust="spacingAndGlyphs">other HSCT</text>
<path d="M377.3 414.85H399" stroke="#22355e" stroke-width="1.5" stroke-dasharray="1.45 1.5"/>
<path d="M377.2 429.80H400" stroke="#47944c" stroke-width="1.9"/>
<path d="M377.2 444.95H400" stroke="#a8123a" stroke-width="1.9"/>
<text x="404.6" y="418.40" font-size="11.7" textLength="67.6" lengthAdjust="spacingAndGlyphs">de-novo AML</text>
<text x="404.6" y="433.40" font-size="11.8" textLength="103.2" lengthAdjust="spacingAndGlyphs">HSCT NEL 2 cycles</text>
<text x="404.6" y="448.60" font-size="11.7" textLength="61.8" lengthAdjust="spacingAndGlyphs">other HSCT</text>
<text x="111.8" y="307.70" font-size="11.8">At risk</text>
<text x="122.5" y="325.80" text-anchor="end" font-size="11.8" textLength="68.5" lengthAdjust="spacingAndGlyphs">de-novo AML</text>
<text x="154.00" y="325.80" text-anchor="end" font-size="11.8">945</text>
<text x="225.23" y="325.80" text-anchor="end" font-size="11.8">795</text>
<text x="296.46" y="325.80" text-anchor="end" font-size="11.8">699</text>
<text x="367.69" y="325.80" text-anchor="end" font-size="11.8">578</text>
<text x="438.92" y="325.80" text-anchor="end" font-size="11.8">489</text>
<text x="510.15" y="325.80" text-anchor="end" font-size="11.8">395</text>
<text x="122.5" y="343.70" text-anchor="end" font-size="11.8">HSCT NEL 2 cycles</text>
<text x="154.00" y="343.70" text-anchor="end" font-size="11.8">30</text>
<text x="225.23" y="343.70" text-anchor="end" font-size="11.8">23</text>
<text x="296.46" y="343.70" text-anchor="end" font-size="11.8">20</text>
<text x="367.69" y="343.70" text-anchor="end" font-size="11.8">14</text>
<text x="438.92" y="343.70" text-anchor="end" font-size="11.8">11</text>
<text x="510.15" y="343.70" text-anchor="end" font-size="11.8">7</text>
<text x="122.5" y="361.40" text-anchor="end" font-size="11.8">other HSCT</text>
<text x="154.00" y="361.40" text-anchor="end" font-size="11.8">37</text>
<text x="225.23" y="361.40" text-anchor="end" font-size="11.8">14</text>
<text x="296.46" y="361.40" text-anchor="end" font-size="11.8">11</text>
<text x="367.69" y="361.40" text-anchor="end" font-size="11.8">9</text>
<text x="438.92" y="361.40" text-anchor="end" font-size="11.8">9</text>
<text x="510.15" y="361.40" text-anchor="end" font-size="11.8">9</text>
<text x="111.8" y="687.70" font-size="11.8">At risk</text>
<text x="122.5" y="705.80" text-anchor="end" font-size="11.8" textLength="68.5" lengthAdjust="spacingAndGlyphs">de-novo AML</text>
<text x="154.00" y="705.80" text-anchor="end" font-size="11.8">878</text>
<text x="225.23" y="705.80" text-anchor="end" font-size="11.8">624</text>
<text x="296.46" y="705.80" text-anchor="end" font-size="11.8">550</text>
<text x="367.69" y="705.80" text-anchor="end" font-size="11.8">451</text>
<text x="438.92" y="705.80" text-anchor="end" font-size="11.8">377</text>
<text x="510.15" y="705.80" text-anchor="end" font-size="11.8">296</text>
<text x="122.5" y="723.70" text-anchor="end" font-size="11.8">HSCT NEL 2 cycles</text>
<text x="154.00" y="723.70" text-anchor="end" font-size="11.8">30</text>
<text x="225.23" y="723.70" text-anchor="end" font-size="11.8">21</text>
<text x="296.46" y="723.70" text-anchor="end" font-size="11.8">19</text>
<text x="367.69" y="723.70" text-anchor="end" font-size="11.8">13</text>
<text x="438.92" y="723.70" text-anchor="end" font-size="11.8">11</text>
<text x="510.15" y="723.70" text-anchor="end" font-size="11.8">7</text>
<text x="122.5" y="741.40" text-anchor="end" font-size="11.8">other HSCT</text>
<text x="154.00" y="741.40" text-anchor="end" font-size="11.8">23</text>
<text x="225.23" y="741.40" text-anchor="end" font-size="11.8">12</text>
<text x="296.46" y="741.40" text-anchor="end" font-size="11.8">10</text>
<text x="367.69" y="741.40" text-anchor="end" font-size="11.8">8</text>
<text x="438.92" y="741.40" text-anchor="end" font-size="11.8">8</text>
<text x="510.15" y="741.40" text-anchor="end" font-size="11.8">8</text>
<text x="10.1" y="22.6" font-size="17.4" font-weight="bold" style="stroke-width:0.7px">A</text>
<text x="10.7" y="402" font-size="17.4" font-weight="bold" style="stroke-width:0.7px">B</text>
</svg></div></body></html>
